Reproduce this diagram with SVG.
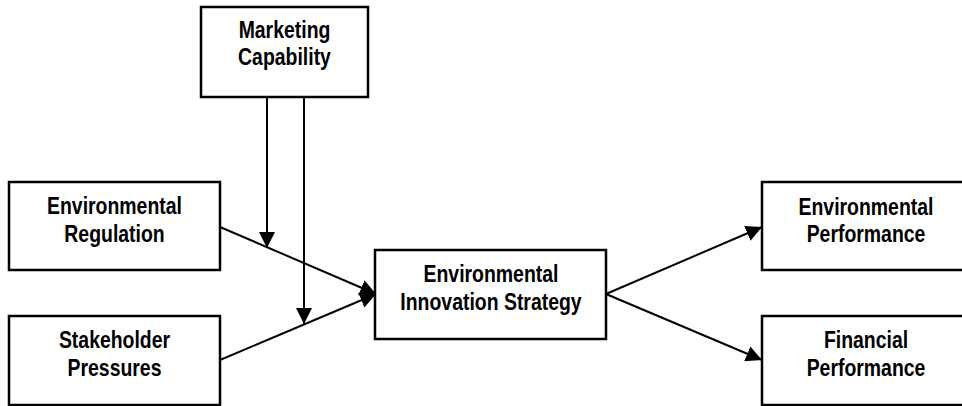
<svg xmlns="http://www.w3.org/2000/svg" width="962" height="406" viewBox="0 0 962 406">
<defs>
<style>
.box{fill:#fff;stroke:#000;stroke-width:2.5}
.lbl{font-family:"Liberation Sans",Arial,sans-serif;font-weight:bold;font-size:23px;fill:#000;text-anchor:middle}
.edge{stroke:#000;stroke-width:2;fill:none}
</style>
<marker id="ah" viewBox="0 0 16 16" refX="16" refY="8" markerWidth="16" markerHeight="16" markerUnits="userSpaceOnUse" orient="auto">
<path d="M0,0 L16,8 L0,16 Z" fill="#000"/>
</marker>
</defs>
<rect width="962" height="406" fill="#fff"/>
<g id="connectors">
<line class="edge" x1="267" y1="97" x2="267" y2="248" marker-end="url(#ah)"/>
<line class="edge" x1="304" y1="97" x2="304" y2="324" marker-end="url(#ah)"/>
<line class="edge" x1="220" y1="227" x2="376" y2="294" marker-end="url(#ah)"/>
<line class="edge" x1="220" y1="360" x2="376" y2="294" marker-end="url(#ah)"/>
<line class="edge" x1="606" y1="294" x2="762" y2="227" marker-end="url(#ah)"/>
<line class="edge" x1="606" y1="294" x2="762" y2="360" marker-end="url(#ah)"/>
</g>
<g id="marketing">
<rect class="box" x="201" y="7" width="167" height="90"/>
<g transform="translate(284.5,0) scale(0.845,1)">
<text class="lbl" x="0" y="38">Marketing</text>
<text class="lbl" x="0" y="65">Capability</text>
</g>
</g>
<g id="regulation">
<rect class="box" x="9" y="182" width="211" height="88"/>
<g transform="translate(114.5,0) scale(0.845,1)">
<text class="lbl" x="0" y="214">Environmental</text>
<text class="lbl" x="0" y="242">Regulation</text>
</g>
</g>
<g id="stakeholder">
<rect class="box" x="9" y="316" width="211" height="89"/>
<g transform="translate(114.5,0) scale(0.845,1)">
<text class="lbl" x="0" y="348">Stakeholder</text>
<text class="lbl" x="0" y="376">Pressures</text>
</g>
</g>
<g id="strategy">
<rect class="box" x="375" y="250" width="231" height="89"/>
<g transform="translate(491,0) scale(0.845,1)">
<text class="lbl" x="0" y="282">Environmental</text>
<text class="lbl" x="0" y="310">Innovation Strategy</text>
</g>
</g>
<g id="envperf">
<rect class="box" x="762" y="182" width="210" height="88"/>
<g transform="translate(866,0) scale(0.845,1)">
<text class="lbl" x="0" y="215">Environmental</text>
<text class="lbl" x="0" y="242">Performance</text>
</g>
</g>
<g id="finperf">
<rect class="box" x="762" y="316" width="210" height="89"/>
<g transform="translate(866,0) scale(0.845,1)">
<text class="lbl" x="0" y="348">Financial</text>
<text class="lbl" x="0" y="376">Performance</text>
</g>
</g>
</svg>
